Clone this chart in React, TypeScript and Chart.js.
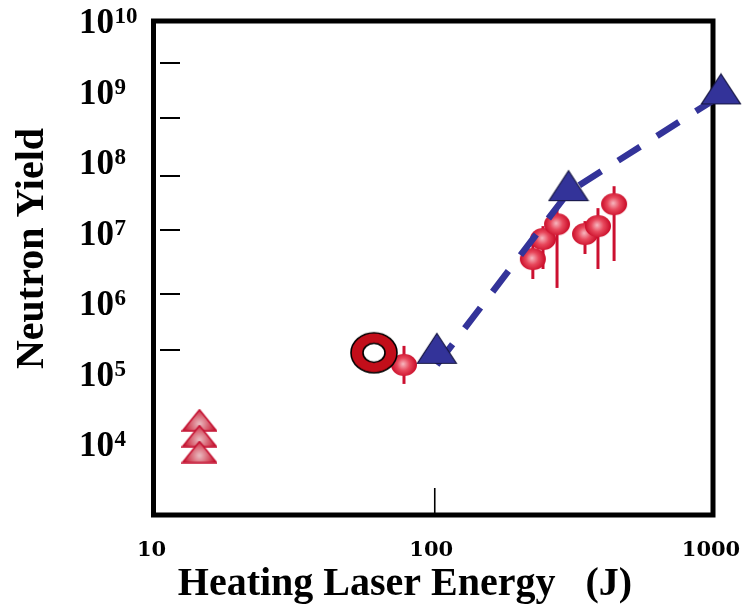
import React, { useEffect, useRef } from "react";
import { Chart, registerables } from "chart.js";

Chart.register(...registerables);

// ---------- data ----------
const xTickValues = [10, 100, 1000];
const xTickLabels = ["10", "100", "1000"];
const yTickExponents = [10, 9, 8, 7, 6, 5, 4];
const yMinorTicks = [2.51e9, 4.18e8, 6.32e7, 1.08e7, 1.34e6, 2.17e5];
const xInnerTicks = [100];

// blue triangles (with dashed trend line)
const triEnergy = [103, 304.5, 1068];
const triYield = [2.3e5, 4.64e7, 1.09e9];

// dashed line vertices
const fitEnergy = [103, 304.5, 1068];
const fitYield = [1.34e5, 3.76e7, 8.84e8];

// red balls with error bars
const ballEnergy = [78.6, 227, 246.8, 277, 348.7, 388, 443];
const ballYield = [1.34e5, 4.24e6, 8.13e6, 1.32e7, 9.57e6, 1.24e7, 2.54e7];
const ballLow = [7.2e4, 2.21e6, 3.06e6, 1.65e6, 4.99e6, 3.06e6, 3.97e6];
const ballHigh = [2.49e5, 7.6e6, 1.24e7, 2.54e7, 1.46e7, 2.23e7, 4.56e7];

// open red ring
const ringEnergy = [61.4];
const ringYield = [1.99e5];

// stacked red triangles
const redTriEnergy = [14.6, 14.6, 14.6];
const redTriYield = [2.2e4, 1.31e4, 7.8e3];

const yTitle = "Neutron Yield";
const xTitle = "Heating Laser Energy   (J)";

// ---------- marker images ----------
function makeCanvas(w: number, h: number, draw: (ctx: CanvasRenderingContext2D) => void) {
  const c = document.createElement("canvas");
  c.width = w;
  c.height = h;
  const ctx = c.getContext("2d")!;
  draw(ctx);
  return c;
}

function blueTriangle() {
  return makeCanvas(42, 33, (ctx) => {
    ctx.beginPath();
    ctx.moveTo(21, 1.5);
    ctx.lineTo(40.5, 31.5);
    ctx.lineTo(1.5, 31.5);
    ctx.closePath();
    ctx.fillStyle = "#333399";
    ctx.fill();
    ctx.strokeStyle = "#151540";
    ctx.lineWidth = 1.2;
    ctx.stroke();
  });
}

function redTriangle() {
  return makeCanvas(36, 23, (ctx) => {
    ctx.beginPath();
    ctx.moveTo(18, 1);
    ctx.lineTo(35, 22);
    ctx.lineTo(1, 22);
    ctx.closePath();
    const g = ctx.createRadialGradient(18, 15, 1, 18, 15, 17);
    g.addColorStop(0, "#e8b4ba");
    g.addColorStop(0.5, "#d86070");
    g.addColorStop(1, "#c4102c");
    ctx.fillStyle = g;
    ctx.fill();
    ctx.strokeStyle = "#c41030";
    ctx.lineWidth = 1.6;
    ctx.stroke();
  });
}

function redBall() {
  return makeCanvas(28, 24, (ctx) => {
    ctx.beginPath();
    ctx.ellipse(14, 12, 13, 11, 0, 0, Math.PI * 2);
    const g = ctx.createRadialGradient(13, 11, 0, 14, 12, 14);
    g.addColorStop(0, "#f7b8c0");
    g.addColorStop(0.45, "#e8485c");
    g.addColorStop(1, "#c4001e");
    ctx.fillStyle = g;
    ctx.fill();
  });
}

function redRing() {
  return makeCanvas(50, 44, (ctx) => {
    ctx.beginPath();
    ctx.ellipse(25, 22, 23, 20, 0, 0, Math.PI * 2);
    ctx.moveTo(36, 22);
    ctx.ellipse(25, 22, 11, 9.5, 0, 0, Math.PI * 2);
    ctx.fillStyle = "#c20e1a";
    ctx.fill("evenodd");
    ctx.strokeStyle = "#000";
    ctx.lineWidth = 1.6;
    ctx.stroke();
  });
}

const framePlugin = {
  id: "frame",
  beforeDatasetsDraw(chart: any) {
    const { ctx, chartArea: a } = chart;
    const x = chart.scales.x;
    const y = chart.scales.y;
    ctx.save();

    // error bars
    ctx.strokeStyle = "#cc1030";
    ctx.lineWidth = 3;
    ballEnergy.forEach((e, i) => {
      const px = x.getPixelForValue(e);
      ctx.beginPath();
      ctx.moveTo(px, y.getPixelForValue(ballLow[i]));
      ctx.lineTo(px, y.getPixelForValue(ballHigh[i]));
      ctx.stroke();
    });

    // frame
    ctx.strokeStyle = "#000";
    ctx.lineWidth = 5;
    ctx.strokeRect(a.left, a.top, a.right - a.left, a.bottom - a.top);

    // inner minor ticks on y
    ctx.lineWidth = 2;
    yMinorTicks.forEach((v) => {
      const py = Math.round(y.getPixelForValue(v));
      ctx.beginPath();
      ctx.moveTo(a.left + 6.5, py);
      ctx.lineTo(a.left + 26.5, py);
      ctx.stroke();
    });
    // inner tick on x
    ctx.lineWidth = 1.6;
    xInnerTicks.forEach((v) => {
      const px = x.getPixelForValue(v) + 1.5;
      ctx.beginPath();
      ctx.moveTo(px, a.bottom - 27);
      ctx.lineTo(px, a.bottom);
      ctx.stroke();
    });

    // y tick labels 10^n
    ctx.fillStyle = "#000";
    ctx.textAlign = "left";
    ctx.textBaseline = "alphabetic";
    yTickExponents.forEach((n) => {
      const py = y.getPixelForValue(Math.pow(10, n));
      ctx.font = 'bold 35px "Liberation Serif"';
      ctx.fillText("10", 79, py + 12);
      const w = ctx.measureText("10").width;
      ctx.font = 'bold 23px "Liberation Serif"';
      ctx.fillText(String(n), 79 + w + 0.5, py + 2);
    });

    // x tick labels
    ctx.font = 'bold 21px "DejaVu Serif"';
    ctx.textAlign = "center";
    xTickValues.forEach((v, i) => {
      const px = x.getPixelForValue(v);
      ctx.fillText(xTickLabels[i], px - 2, 556);
    });

    // axis titles
    ctx.font = 'bold 40px "Liberation Serif"';
    ctx.textAlign = "center";
    ctx.fillText(xTitle, 405, 595);
    ctx.save();
    ctx.translate(43, 248.5);
    ctx.rotate(-Math.PI / 2);
    ctx.fillText(yTitle, 0, 0);
    ctx.restore();

    ctx.restore();
  },
};

export default function App() {
  const ref = useRef<HTMLCanvasElement | null>(null);

  useEffect(() => {
    document.body.style.margin = "0";
    const canvas = ref.current!;
    const pts = (xs: number[], ys: number[]) => xs.map((v, i) => ({ x: v, y: ys[i] }));

    const chart = new Chart(canvas, {
      type: "scatter",
      data: {
        datasets: [
          {
            label: "blue triangles",
            data: pts(triEnergy, triYield),
            pointStyle: blueTriangle() as any,
            pointRadius: 20,
            showLine: false,
            order: 0,
            clip: false as any,
          },
          {
            label: "trend",
            data: pts(fitEnergy, fitYield),
            showLine: true,
            pointRadius: 0,
            borderColor: "#333399",
            borderWidth: 6.5,
            borderDash: [26, 20],
            borderCapStyle: "butt",
            fill: false,
            order: 1,
            clip: false as any,
          },
          {
            label: "ring",
            data: pts(ringEnergy, ringYield),
            pointStyle: redRing() as any,
            pointRadius: 20,
            showLine: false,
            order: 2,
          },
          {
            label: "balls",
            data: pts(ballEnergy, ballYield),
            pointStyle: redBall() as any,
            pointRadius: 12,
            showLine: false,
            order: 3,
          },
          {
            label: "red triangles",
            data: pts(redTriEnergy, redTriYield),
            pointStyle: redTriangle() as any,
            pointRadius: 12,
            showLine: false,
            order: 4,
          },
        ],
      },
      options: {
        animation: false,
        responsive: false,
        maintainAspectRatio: false,
        events: [],
        layout: { padding: { left: 153.5, top: 19.5, right: 32, bottom: 90 } },
        plugins: { legend: { display: false }, tooltip: { enabled: false } },
        scales: {
          x: { type: "logarithmic", min: 10, max: 1000, display: false },
          y: { type: "logarithmic", min: 1e3, max: 1e10, display: false },
        },
      },
      plugins: [framePlugin],
    });
    return () => chart.destroy();
  }, []);

  return <canvas ref={ref} width={745} height={605} style={{ display: "block" }} />;
}
